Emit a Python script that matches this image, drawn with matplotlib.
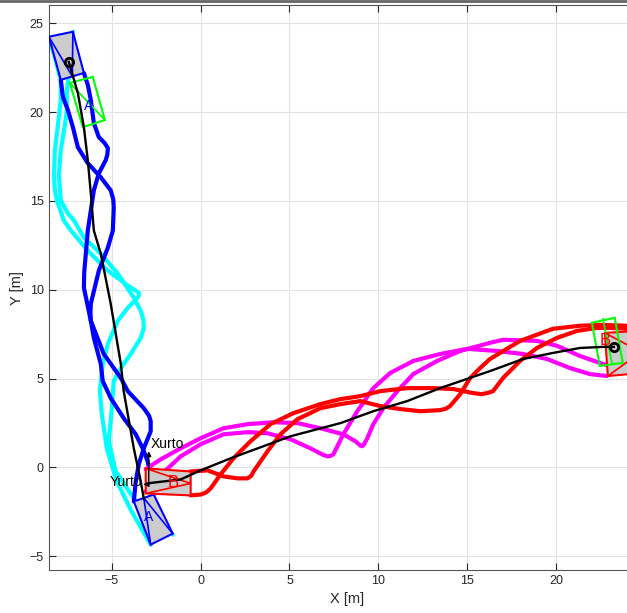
import matplotlib.pyplot as plt
from matplotlib.lines import Line2D
from matplotlib.patches import Polygon

plt.rcParams['font.family'] = ['Liberation Sans', 'DejaVu Sans']

# ---- vehicle A: top start -> bottom goal ----
a_path = [(-7.42, 22.82), (-6.91, 21.07), (-6.57, 19.15), (-6.35, 17.29), (-6.18, 15.42),
          (-6.01, 13.33), (-5.62, 12.03), (-5.06, 9.21), (-4.49, 5.82), (-4.33, 4.29),
          (-4.10, 2.99), (-3.76, 1.07), (-3.37, -0.79), (-3.20, -1.75)]

a_cyan1 = [(-8.54, 24.24), (-8.20, 23.05), (-7.87, 21.81), (-7.87, 20.68), (-8.03, 19.27),
           (-8.20, 17.85), (-8.26, 16.44), (-8.20, 15.60), (-8.09, 15.03), (-7.70, 13.90),
           (-7.30, 13.33), (-6.35, 12.20), (-5.22, 11.07), (-4.10, 10.23), (-3.70, 9.98),
           (-3.48, 9.83), (-3.48, 9.66), (-3.54, 9.55), (-4.10, 8.98), (-4.66, 8.25),
           (-5.22, 6.95), (-5.51, 5.82), (-5.67, 4.29), (-5.56, 2.99), (-5.28, 1.07),
           (-4.72, -0.79), (-3.88, -2.49), (-2.81, -4.35)]
a_cyan2 = [(-7.19, 24.52), (-7.30, 22.94), (-7.53, 21.24), (-7.53, 20.11), (-7.64, 19.27),
           (-7.87, 17.85), (-7.98, 16.44), (-7.87, 15.03), (-7.47, 14.29), (-7.13, 13.90),
           (-6.57, 12.94), (-5.62, 12.03), (-4.66, 10.90), (-3.76, 9.55), (-3.37, 8.81),
           (-3.22, 8.30), (-3.20, 7.85), (-3.37, 7.29), (-3.93, 6.38), (-4.49, 5.59),
           (-4.89, 4.86), (-5.00, 3.33), (-5.17, 1.47), (-4.78, -0.23), (-3.76, -1.75),
           (-2.70, -2.77), (-1.57, -3.79)]
a_blue1 = [(-7.87, 21.81), (-7.75, 20.85), (-7.47, 20.11), (-7.19, 19.15), (-6.91, 18.02),
           (-6.35, 17.12), (-5.62, 16.33), (-5.06, 15.59), (-4.92, 15.10), (-4.89, 14.63),
           (-4.94, 13.33), (-5.22, 12.37), (-5.73, 11.07), (-6.18, 9.21), (-6.20, 8.70),
           (-6.18, 8.25), (-6.01, 7.29), (-5.62, 5.82), (-5.51, 4.86), (-5.06, 3.90),
           (-4.33, 2.77), (-3.65, 1.86), (-3.26, 1.07), (-2.98, 0.34), (-2.81, -0.51),
           (-2.64, -1.53)]
a_blue2 = [(-6.57, 22.20), (-6.35, 21.53), (-6.18, 20.68), (-6.01, 19.38), (-5.73, 18.59),
           (-5.40, 18.25), (-5.22, 17.97), (-5.25, 17.60), (-5.34, 17.29), (-5.73, 16.55),
           (-6.01, 15.59), (-6.18, 14.46), (-6.35, 13.33), (-6.46, 12.03), (-6.55, 11.00),
           (-6.57, 10.11), (-6.18, 8.25), (-5.45, 6.38), (-4.49, 5.03), (-4.10, 4.29),
           (-3.20, 3.33), (-2.90, 2.90), (-2.81, 2.60), (-2.81, 2.03), (-3.20, 1.07),
           (-3.48, 0.17), (-3.65, -0.79), (-3.76, -1.92)]

a_start_box = [(-8.54, 24.24), (-7.19, 24.52), (-6.57, 22.20), (-7.87, 21.81)]
a_goal_box = [(-3.76, -1.92), (-2.64, -1.53), (-1.57, -3.73), (-2.81, -4.35)]
a_green = [(-7.36, 21.64), (-6.07, 21.98), (-5.39, 19.55), (-6.63, 19.15)]

# ---- vehicle B: left start -> right goal ----
b_path = [(-2.98, -0.90), (-1.12, -0.68), (0.0, -0.17), (1.69, 0.51), (5.06, 1.75),
          (7.87, 2.49), (9.72, 3.16), (11.63, 3.73), (13.48, 4.46), (16.29, 5.42),
          (18.15, 6.10), (19.83, 6.44), (21.35, 6.72), (22.64, 6.78), (23.26, 6.78)]

b_mag1 = [(-3.09, -0.11), (-2.25, 0.45), (-1.12, 1.07), (0.0, 1.64), (1.29, 2.20),
          (2.64, 2.43), (4.10, 2.54), (5.45, 2.49), (6.74, 2.20), (8.03, 1.86),
          (8.71, 1.47), (9.00, 1.22), (9.10, 1.19), (9.20, 1.30), (9.38, 1.64),
          (9.72, 2.43), (10.28, 3.33), (11.07, 4.29), (11.97, 5.25), (13.31, 5.99),
          (14.61, 6.55), (16.29, 7.01), (17.02, 7.18), (18.93, 7.12), (20.06, 6.84),
          (21.35, 6.27), (22.64, 5.82), (23.99, 5.42)]
b_mag2 = [(-3.09, -1.36), (-2.53, -0.62), (-1.85, -0.06), (-1.12, 0.62), (0.0, 1.30),
          (1.29, 1.86), (2.64, 1.98), (3.76, 1.92), (5.06, 1.58), (6.18, 1.07),
          (6.90, 0.70), (7.13, 0.62), (7.30, 0.64), (7.47, 0.73), (8.03, 1.86),
          (8.82, 3.16), (9.72, 4.46), (10.67, 5.31), (11.97, 5.99), (13.48, 6.38),
          (15.00, 6.67), (16.69, 6.55), (18.15, 6.38), (19.49, 6.10), (20.79, 5.59),
          (21.91, 5.25), (22.87, 5.14)]
b_red1 = [(-0.56, -1.58), (0.0, -1.53), (0.30, -1.42), (0.56, -1.19), (1.12, -0.40),
          (1.85, 0.51), (2.81, 1.47), (3.93, 2.43), (5.22, 3.05), (6.74, 3.56),
          (7.87, 3.84), (8.99, 4.01), (10.11, 4.29), (11.63, 4.46), (13.09, 4.46),
          (14.21, 4.41), (15.34, 4.18), (15.80, 4.12), (16.12, 4.18), (16.46, 4.29),
          (17.02, 5.03), (17.98, 5.99), (18.93, 6.72), (20.06, 7.29), (21.18, 7.68),
          (22.30, 7.85), (23.03, 7.85), (23.99, 7.80)]
b_red2 = [(-0.56, -0.23), (0.39, -0.17), (1.29, -0.51), (2.08, -0.62), (2.64, -0.62),
          (2.85, -0.48), (2.98, -0.23), (3.76, 0.90), (4.49, 1.86), (5.45, 2.71),
          (6.74, 3.33), (7.87, 3.56), (8.99, 3.73), (10.11, 3.45), (11.24, 3.28),
          (12.36, 3.16), (13.48, 3.22), (13.80, 3.30), (14.04, 3.45), (14.61, 4.12),
          (15.17, 5.03), (15.73, 5.59), (16.29, 6.10), (17.98, 7.12), (19.83, 7.80),
          (21.35, 7.97), (22.64, 8.02), (23.99, 7.97)]

b_start_box = [(-3.09, -0.06), (-0.56, -0.23), (-0.56, -1.58), (-3.09, -1.47)]
b_goal_box = [(22.75, 7.57), (24.72, 7.68), (24.83, 5.31), (22.92, 5.14)]
b_green = [(22.02, 8.14), (23.31, 8.42), (23.76, 5.88), (22.47, 5.71)]
b_green_mid = [(22.64, 8.36), (23.15, 5.88)]

urto_origin = (-2.92, -0.96)
urto_x_tip = (-2.92, 1.07)
urto_y_tip = (-3.37, -0.96)


def xs(pts):
    return [p[0] for p in pts]


def ys(pts):
    return [p[1] for p in pts]


def mid(p, q):
    return ((p[0] + q[0]) / 2, (p[1] + q[1]) / 2)


fig = plt.figure(figsize=(6.27, 6.13), dpi=100)
ax = fig.add_axes([0.0774, 0.0701, 0.951, 0.921])

lw_c = 3.0
for pts, col in [(a_cyan1, 'cyan'), (a_cyan2, 'cyan'), (a_blue1, 'blue'), (a_blue2, 'blue'),
                 (b_mag1, 'magenta'), (b_mag2, 'magenta'), (b_red1, 'red'), (b_red2, 'red')]:
    ax.plot(xs(pts), ys(pts), color=col, lw=lw_c, zorder=2,
            solid_joinstyle='round', solid_capstyle='round')

# vehicle footprints
for box, edge, apex_edge in [(a_start_box, 'blue', (3, 2)), (a_goal_box, 'blue', (0, 1)),
                             (b_start_box, 'red', (1, 2)), (b_goal_box, 'red', (1, 2))]:
    ax.add_patch(Polygon(box, closed=True, facecolor='#cccccc', edgecolor=edge,
                         lw=1.5, zorder=3))
    apex = mid(box[apex_edge[0]], box[apex_edge[1]])
    others = [p for i, p in enumerate(box) if i not in apex_edge]
    tri = [others[0], apex, others[1]]
    ax.plot(xs(tri), ys(tri), color=edge, lw=1.2, zorder=3)

ax.add_patch(Polygon(a_green, closed=True, fill=False, edgecolor='#00ff00', lw=1.5, zorder=4))
ax.plot([a_green[0][0], a_green[2][0]], [a_green[0][1], a_green[2][1]],
        color='#00ff00', lw=1.2, zorder=4)
ax.add_patch(Polygon(b_green, closed=True, fill=False, edgecolor='#00ff00', lw=1.5, zorder=4))
ax.plot(xs(b_green_mid), ys(b_green_mid), color='#00ff00', lw=1.2, zorder=4)

ax.plot(xs(a_path), ys(a_path), color='black', lw=1.7, zorder=5)
ax.plot(xs(b_path), ys(b_path), color='black', lw=1.7, zorder=5)
ax.plot([a_path[0][0], b_path[-1][0]], [a_path[0][1], b_path[-1][1]], 'o', ms=6,
        mfc='none', mec='black', mew=2, zorder=6)

ax.text(-6.29, 20.34, 'A', color='blue', fontsize=10, ha='center', va='center', zorder=6)
ax.text(-2.92, -2.77, 'A', color='blue', fontsize=10, ha='center', va='center', zorder=6)
ax.text(-1.57, -0.85, 'B', color='red', fontsize=12, ha='center', va='center', zorder=6)
ax.text(22.75, 7.12, 'B', color='red', fontsize=12, ha='center', va='center', zorder=6)

# local frame arrows
for tip in (urto_x_tip, urto_y_tip):
    ax.annotate('', xy=tip, xytext=urto_origin,
                arrowprops=dict(arrowstyle='-|>', color='black', lw=1.0, mutation_scale=7),
                zorder=6)
ax.text(-2.81, 1.30, 'Xurto', fontsize=10, ha='left', va='center', zorder=7)
ax.text(-3.26, -0.85, 'Yurto', fontsize=10, ha='right', va='center', zorder=7)

ax.set_xlim(-8.56, 25.0)
ax.set_ylim(-5.78, 26.0)
ax.set_xticks([-5, 0, 5, 10, 15, 20])
ax.set_yticks([-5, 0, 5, 10, 15, 20, 25])
ax.grid(True, color='#e3e3e3', lw=0.8)
ax.set_axisbelow(True)
ax.tick_params(direction='in', length=5, width=0.8, top=True, right=True,
               labelsize=9, colors='#262626')
for s in ax.spines.values():
    s.set_color('#555555')
    s.set_linewidth(0.8)
ax.set_xlabel('X [m]', fontsize=10.5, color='#262626', labelpad=4)
ax.set_ylabel('Y [m]', fontsize=10.5, color='#262626', labelpad=4)

fig.add_artist(Line2D([0, 1], [0.998, 0.998], color='#666666', lw=2, transform=fig.transFigure))

fig.savefig('out.png', dpi=100)
